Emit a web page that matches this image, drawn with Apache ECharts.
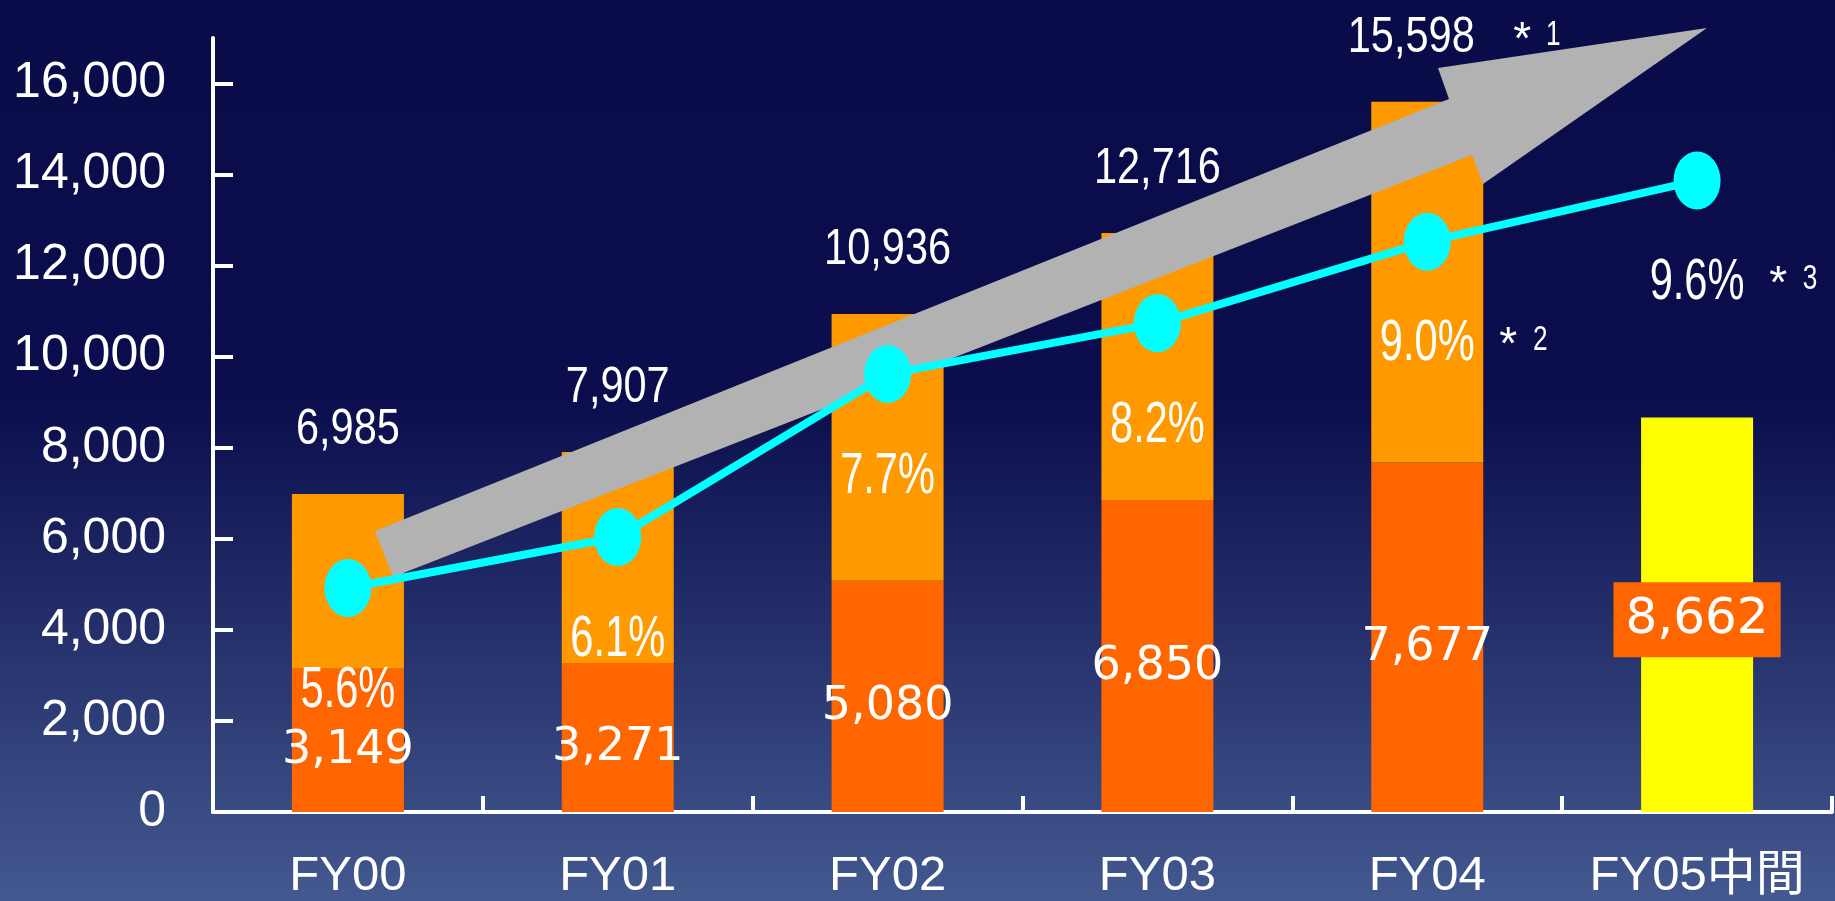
<!DOCTYPE html>
<html>
<head>
<meta charset="utf-8">
<script src="https://cdn.jsdelivr.net/npm/echarts@6/dist/echarts.min.js"></script>
<style>
html,body{margin:0;padding:0;width:1835px;height:901px;overflow:hidden;background:#0A0C4A;}
#chart{width:1835px;height:901px;}
</style>
</head>
<body>
<div id="chart"></div>
<script>
// ---- data ----
const categories = ['FY00', 'FY01', 'FY02', 'FY03', 'FY04', 'FY05中間'];
const totalSales = [6985, 7907, 10936, 12716, 15598, null];
const baseSales = [3149, 3271, 5080, 6850, 7677, null];
const interimSales = [null, null, null, null, null, 8662];
const marginPct = [5.6, 6.1, 7.7, 8.2, 9.0, 9.6];
const totalNotes = [null, null, null, null, '1', null];
const pctNotes = [null, null, null, null, '2', '3'];
const yTicks = [0, 2000, 4000, 6000, 8000, 10000, 12000, 14000, 16000];

// ---- derived ----
const upperPart = totalSales.map((t, i) => (t == null ? '-' : t - baseSales[i]));
const baseData = baseSales.map(v => (v == null ? '-' : v));
const interimData = interimSales.map(v => (v == null ? '-' : v));
const fmt = v => Number(v).toLocaleString('en-US');

const SANS = "'Liberation Sans', Arial, 'Noto Sans CJK JP', sans-serif";
const WIDE = "'DejaVu Sans', sans-serif";

const chart = echarts.init(document.getElementById('chart'), null, { renderer: 'canvas' });

const option = {
  animation: false,
  backgroundColor: new echarts.graphic.LinearGradient(0, 0, 0, 1, [
    { offset: 0, color: '#0A0C4A' },
    { offset: 0.44, color: '#0B0D4C' },
    { offset: 1, color: '#43598F' }
  ]),
  grid: { left: 213, right: 3, top: 38, bottom: 88, containLabel: false },
  xAxis: {
    type: 'category',
    data: categories,
    boundaryGap: true,
    axisLine: { show: true, lineStyle: { color: '#fff', width: 4 } },
    axisTick: { show: true, inside: true, interval: 0, length: 16, lineStyle: { color: '#fff', width: 4 } },
    axisLabel: { color: '#fff', fontFamily: SANS, fontSize: 49, margin: 40, interval: 0 },
    splitLine: { show: false }
  },
  yAxis: [
    {
      type: 'value',
      min: 0,
      max: 17000,
      interval: 2000,
      axisLine: { show: true, lineStyle: { color: '#fff', width: 4 } },
      axisTick: { show: true, inside: true, length: 20, customValues: yTicks, lineStyle: { color: '#fff', width: 4 } },
      axisLabel: { color: '#fff', fontFamily: SANS, fontSize: 50, margin: 47, customValues: yTicks,
        formatter: v => fmt(v) },
      splitLine: { show: false }
    },
    {
      type: 'value',
      min: 3.4,
      max: 11.0,
      show: false,
      splitLine: { show: false }
    }
  ],
  series: [
    {
      name: 'base',
      type: 'bar',
      stack: 'sales',
      z: 2,
      barWidth: 112,
      data: baseData,
      itemStyle: { color: '#FF6600' },
      label: {
        show: true,
        position: 'inside',
        offset: [0, 11],
        color: '#fff',
        fontFamily: WIDE,
        fontSize: 46,
        formatter: p => fmt(p.value)
      }
    },
    {
      name: 'upper',
      type: 'bar',
      stack: 'sales',
      z: 2,
      barWidth: 112,
      data: upperPart,
      itemStyle: { color: '#FF9900' }
    },
    {
      name: 'interim',
      type: 'bar',
      stack: 'sales',
      z: 2,
      barWidth: 112,
      data: interimData,
      itemStyle: { color: '#FFFF00' },
      label: {
        show: true,
        position: 'inside',
        color: '#fff',
        fontFamily: WIDE,
        fontSize: 50,
        backgroundColor: '#FF6600',
        padding: [9, 12, 9, 12],
        lineHeight: 57,
        offset: [0, 5],
        formatter: p => fmt(p.value)
      }
    },
    {
      name: 'margin',
      type: 'line',
      yAxisIndex: 1,
      z: 10,
      data: marginPct,
      symbol: 'circle',
      symbolSize: [47, 58],
      lineStyle: { color: '#00FFFF', width: 8 },
      itemStyle: { color: '#00FFFF' }
    }
  ]
};

chart.setOption(option);

// ---- condensed annotation texts, placed through the chart's own scales ----
function narrowText(id, text, x, y, size, sx, z) {
  return {
    type: 'text', id: id, x: x, y: y, scaleX: sx, z: z, silent: true,
    style: {
      text: text, fill: '#fff', font: size + 'px ' + SANS,
      align: 'center', verticalAlign: 'middle',
      textAlign: 'center', textVerticalAlign: 'middle'
    }
  };
}

const els = [];
// big gray trend arrow (decoration)
els.push({
  type: 'polygon', id: 'arrow', z: 5, silent: true,
  shape: { points: [[375, 531], [1449, 99], [1438, 68], [1707, 28], [1483, 184], [1472, 155], [393, 577]] },
  style: { fill: '#B2B2B2' }
});

// totals above the stacked bars
totalSales.forEach((t, i) => {
  if (t == null) return;
  const p = chart.convertToPixel({ xAxisIndex: 0, yAxisIndex: 0 }, [i, t]);
  const shift = totalNotes[i] ? -16 : 0;
  const cx = p[0] + shift, cy = p[1] - 64;
  els.push(narrowText('tot' + i, fmt(t), cx, cy, 50, 0.83, 20));
  if (totalNotes[i]) {
    const right = cx + 63;
    els.push(narrowText('tota' + i, '*', right + 48, cy + 3, 46, 1, 20));
    els.push(narrowText('totn' + i, totalNotes[i], right + 79, cy - 2, 35, 0.75, 20));
  }
});

// margin percentages below the line points
marginPct.forEach((m, i) => {
  const p = chart.convertToPixel({ xAxisIndex: 0, yAxisIndex: 1 }, [i, m]);
  const cx = p[0], cy = p[1] + 103;
  els.push(narrowText('pct' + i, m.toFixed(1) + '%', cx, cy, 57, 0.73, 30));
  if (pctNotes[i]) {
    const right = cx + 47;
    els.push(narrowText('pcta' + i, '*', right + 34, cy + 2, 46, 1, 30));
    els.push(narrowText('pctn' + i, pctNotes[i], right + 66, cy - 4, 35, 0.75, 30));
  }
});

chart.setOption({ graphic: { elements: els } });
</script>
</body>
</html>
